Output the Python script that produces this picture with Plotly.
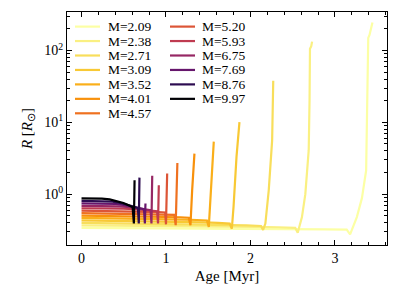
import plotly.graph_objects as go
from plotly.colors import sample_colorscale

# ---------------- data ----------------
masses = [2.09, 2.38, 2.71, 3.09, 3.52, 4.01, 4.57, 5.20, 5.93, 6.75, 7.69, 8.76, 9.97]

age_M209 = [0, 0.628, 1.256, 1.727, 2.198, 2.575, 2.889, 3.14, 3.18, 3.26, 3.32, 3.37, 3.38, 3.395, 3.41, 3.43, 3.445]
rad_M209 = [0.340, 0.338, 0.335, 0.332, 0.330, 0.327, 0.324, 0.32, 0.275, 0.48, 0.88, 2.15, 10, 150, 165, 200, 245]

age_M238 = [0, 0.506, 1.012, 1.392, 1.771, 2.075, 2.328, 2.53, 2.56, 2.61, 2.65, 2.69, 2.70, 2.705, 2.72, 2.73]
rad_M238 = [0.368, 0.365, 0.361, 0.357, 0.354, 0.350, 0.346, 0.34, 0.29, 0.48, 1.0, 4.1, 20, 106, 115, 133]

age_M271 = [0, 0.425, 0.85, 1.169, 1.488, 1.743, 1.955, 2.125, 2.15, 2.177, 2.217, 2.257, 2.27]
rad_M271 = [0.398, 0.393, 0.388, 0.384, 0.379, 0.374, 0.368, 0.36, 0.317, 0.39, 1.14, 5.6, 38]

age_M309 = [0, 0.351, 0.702, 0.965, 1.229, 1.439, 1.615, 1.755, 1.78, 1.80, 1.835, 1.87]
rad_M309 = [0.431, 0.426, 0.420, 0.415, 0.411, 0.405, 0.398, 0.39, 0.33, 0.67, 3.3, 10.1]

age_M352 = [0, 0.297, 0.594, 0.817, 1.04, 1.218, 1.366, 1.485, 1.507, 1.535, 1.566]
rad_M352 = [0.466, 0.462, 0.457, 0.452, 0.448, 0.443, 0.437, 0.43, 0.35, 1.14, 5.4]

age_M401 = [0, 0.254, 0.508, 0.699, 0.889, 1.041, 1.168, 1.27, 1.29, 1.31, 1.337]
rad_M401 = [0.504, 0.500, 0.495, 0.491, 0.487, 0.483, 0.477, 0.47, 0.37, 1.14, 3.67]

age_M457 = [0, 0.22, 0.44, 0.605, 0.77, 0.902, 1.012, 1.10, 1.115, 1.135]
rad_M457 = [0.545, 0.541, 0.537, 0.534, 0.530, 0.526, 0.521, 0.515, 0.37, 2.72]

age_M520 = [0, 0.198, 0.396, 0.545, 0.693, 0.812, 0.911, 0.99, 1.0, 1.014]
rad_M520 = [0.589, 0.585, 0.580, 0.576, 0.572, 0.568, 0.562, 0.555, 0.38, 1.94]

age_M593 = [0, 0.179, 0.358, 0.492, 0.627, 0.734, 0.823, 0.895, 0.906, 0.915]
rad_M593 = [0.637, 0.637, 0.635, 0.630, 0.619, 0.606, 0.591, 0.58, 0.39, 1.33]

age_M675 = [0, 0.164, 0.327, 0.450, 0.573, 0.671, 0.753, 0.818, 0.828, 0.837]
rad_M675 = [0.689, 0.689, 0.686, 0.678, 0.661, 0.640, 0.618, 0.60, 0.39, 1.80]

age_M769 = [0, 0.148, 0.296, 0.407, 0.518, 0.607, 0.681, 0.74, 0.75, 0.757]
rad_M769 = [0.745, 0.744, 0.741, 0.730, 0.705, 0.676, 0.645, 0.62, 0.39, 0.74]

age_M876 = [0, 0.134, 0.267, 0.367, 0.468, 0.548, 0.615, 0.668, 0.678, 0.686]
rad_M876 = [0.805, 0.804, 0.800, 0.785, 0.752, 0.714, 0.673, 0.64, 0.39, 1.70]

age_M997 = [0, 0.121, 0.242, 0.333, 0.424, 0.496, 0.557, 0.605, 0.62, 0.628]
rad_M997 = [0.871, 0.870, 0.865, 0.846, 0.803, 0.755, 0.702, 0.66, 0.39, 1.56]

ages = [age_M209, age_M238, age_M271, age_M309, age_M352, age_M401, age_M457,
        age_M520, age_M593, age_M675, age_M769, age_M876, age_M997]
radii = [rad_M209, rad_M238, rad_M271, rad_M309, rad_M352, rad_M401, rad_M457,
         rad_M520, rad_M593, rad_M675, rad_M769, rad_M876, rad_M997]

ytick_vals = [1, 10, 100]
ytick_text = ["10<sup>0</sup>", "10<sup>1</sup>", "10<sup>2</sup>"]
xtick_vals = [0, 1, 2, 3]

# ---------------- style ----------------
FONT = "Liberation Serif"
mmin, mmax = min(masses), max(masses)
colors = [sample_colorscale("Inferno", [1 - (m - mmin) / (mmax - mmin)])[0] for m in masses]

W, H = 399, 304
L, R, T, B = 67, 12, 12, 59
pw, ph = W - L - R, H - T - B


def px(x):
    return (x - L) / pw


def py(y):
    return (H - B - y) / ph


fig = go.Figure()
for m, t, r, c in zip(masses, ages, radii, colors):
    fig.add_trace(go.Scatter(x=t, y=r, mode="lines", name=f"M={m:.2f}",
                             line=dict(color=c, width=2.2), showlegend=False,
                             hoverinfo="skip"))

# manual two-column legend (matplotlib-like spacing)
row0, drow = 26.6, 14.45
for i, (m, c) in enumerate(zip(masses, colors)):
    col = 0 if i < 7 else 1
    row = i if i < 7 else i - 7
    y = row0 + row * drow
    x0, x1, xt = (75, 100, 106) if col == 0 else (170, 195, 200)
    fig.add_shape(type="line", xref="paper", yref="paper",
                  x0=px(x0), x1=px(x1), y0=py(y), y1=py(y),
                  line=dict(color=c, width=2.2))
    fig.add_annotation(xref="paper", yref="paper", x=px(xt), y=py(y),
                       text=f"M={m:.2f}", showarrow=False,
                       xanchor="left", yanchor="middle",
                       font=dict(family=FONT, size=13.5, color="black"))

minor_y = [k * 10 ** e for e in (-1, 0, 1, 2) for k in range(2, 10)]

fig.update_layout(
    width=W, height=H,
    margin=dict(l=L, r=R, t=T, b=B, autoexpand=False),
    paper_bgcolor="white", plot_bgcolor="white",
    font=dict(family=FONT, size=14, color="black"),
    xaxis=dict(range=[-0.172, 3.617], tickvals=xtick_vals, automargin=False,
               ticks="inside", ticklen=5, tickwidth=1, tickcolor="black",
               showline=True, linecolor="black", linewidth=1, mirror="allticks",
               showgrid=False, zeroline=False,
               minor=dict(ticks="inside", ticklen=3, tickwidth=0.8, dtick=0.2, tick0=0, tickcolor="black", showgrid=False),
               title=dict(text="Age [Myr]", font=dict(family=FONT, size=15), standoff=5),
               tickfont=dict(family=FONT, size=14)),
    yaxis=dict(type="log", range=[-0.708, 2.537], tickvals=ytick_vals, ticktext=ytick_text, automargin=False,
               ticks="inside", ticklen=5, tickwidth=1, tickcolor="black",
               showline=True, linecolor="black", linewidth=1, mirror="allticks",
               showgrid=False, zeroline=False,
               minor=dict(ticks="inside", ticklen=3, tickwidth=0.8, tickvals=minor_y, tickcolor="black", showgrid=False),
               title=dict(text="<i>R</i> [<i>R</i><sub>⊙</sub>]", font=dict(family=FONT, size=15), standoff=8),
               tickfont=dict(family=FONT, size=14)),
)

fig.write_html("out.html", config={"displayModeBar": False},
               post_script="document.body.style.margin='0px';")
